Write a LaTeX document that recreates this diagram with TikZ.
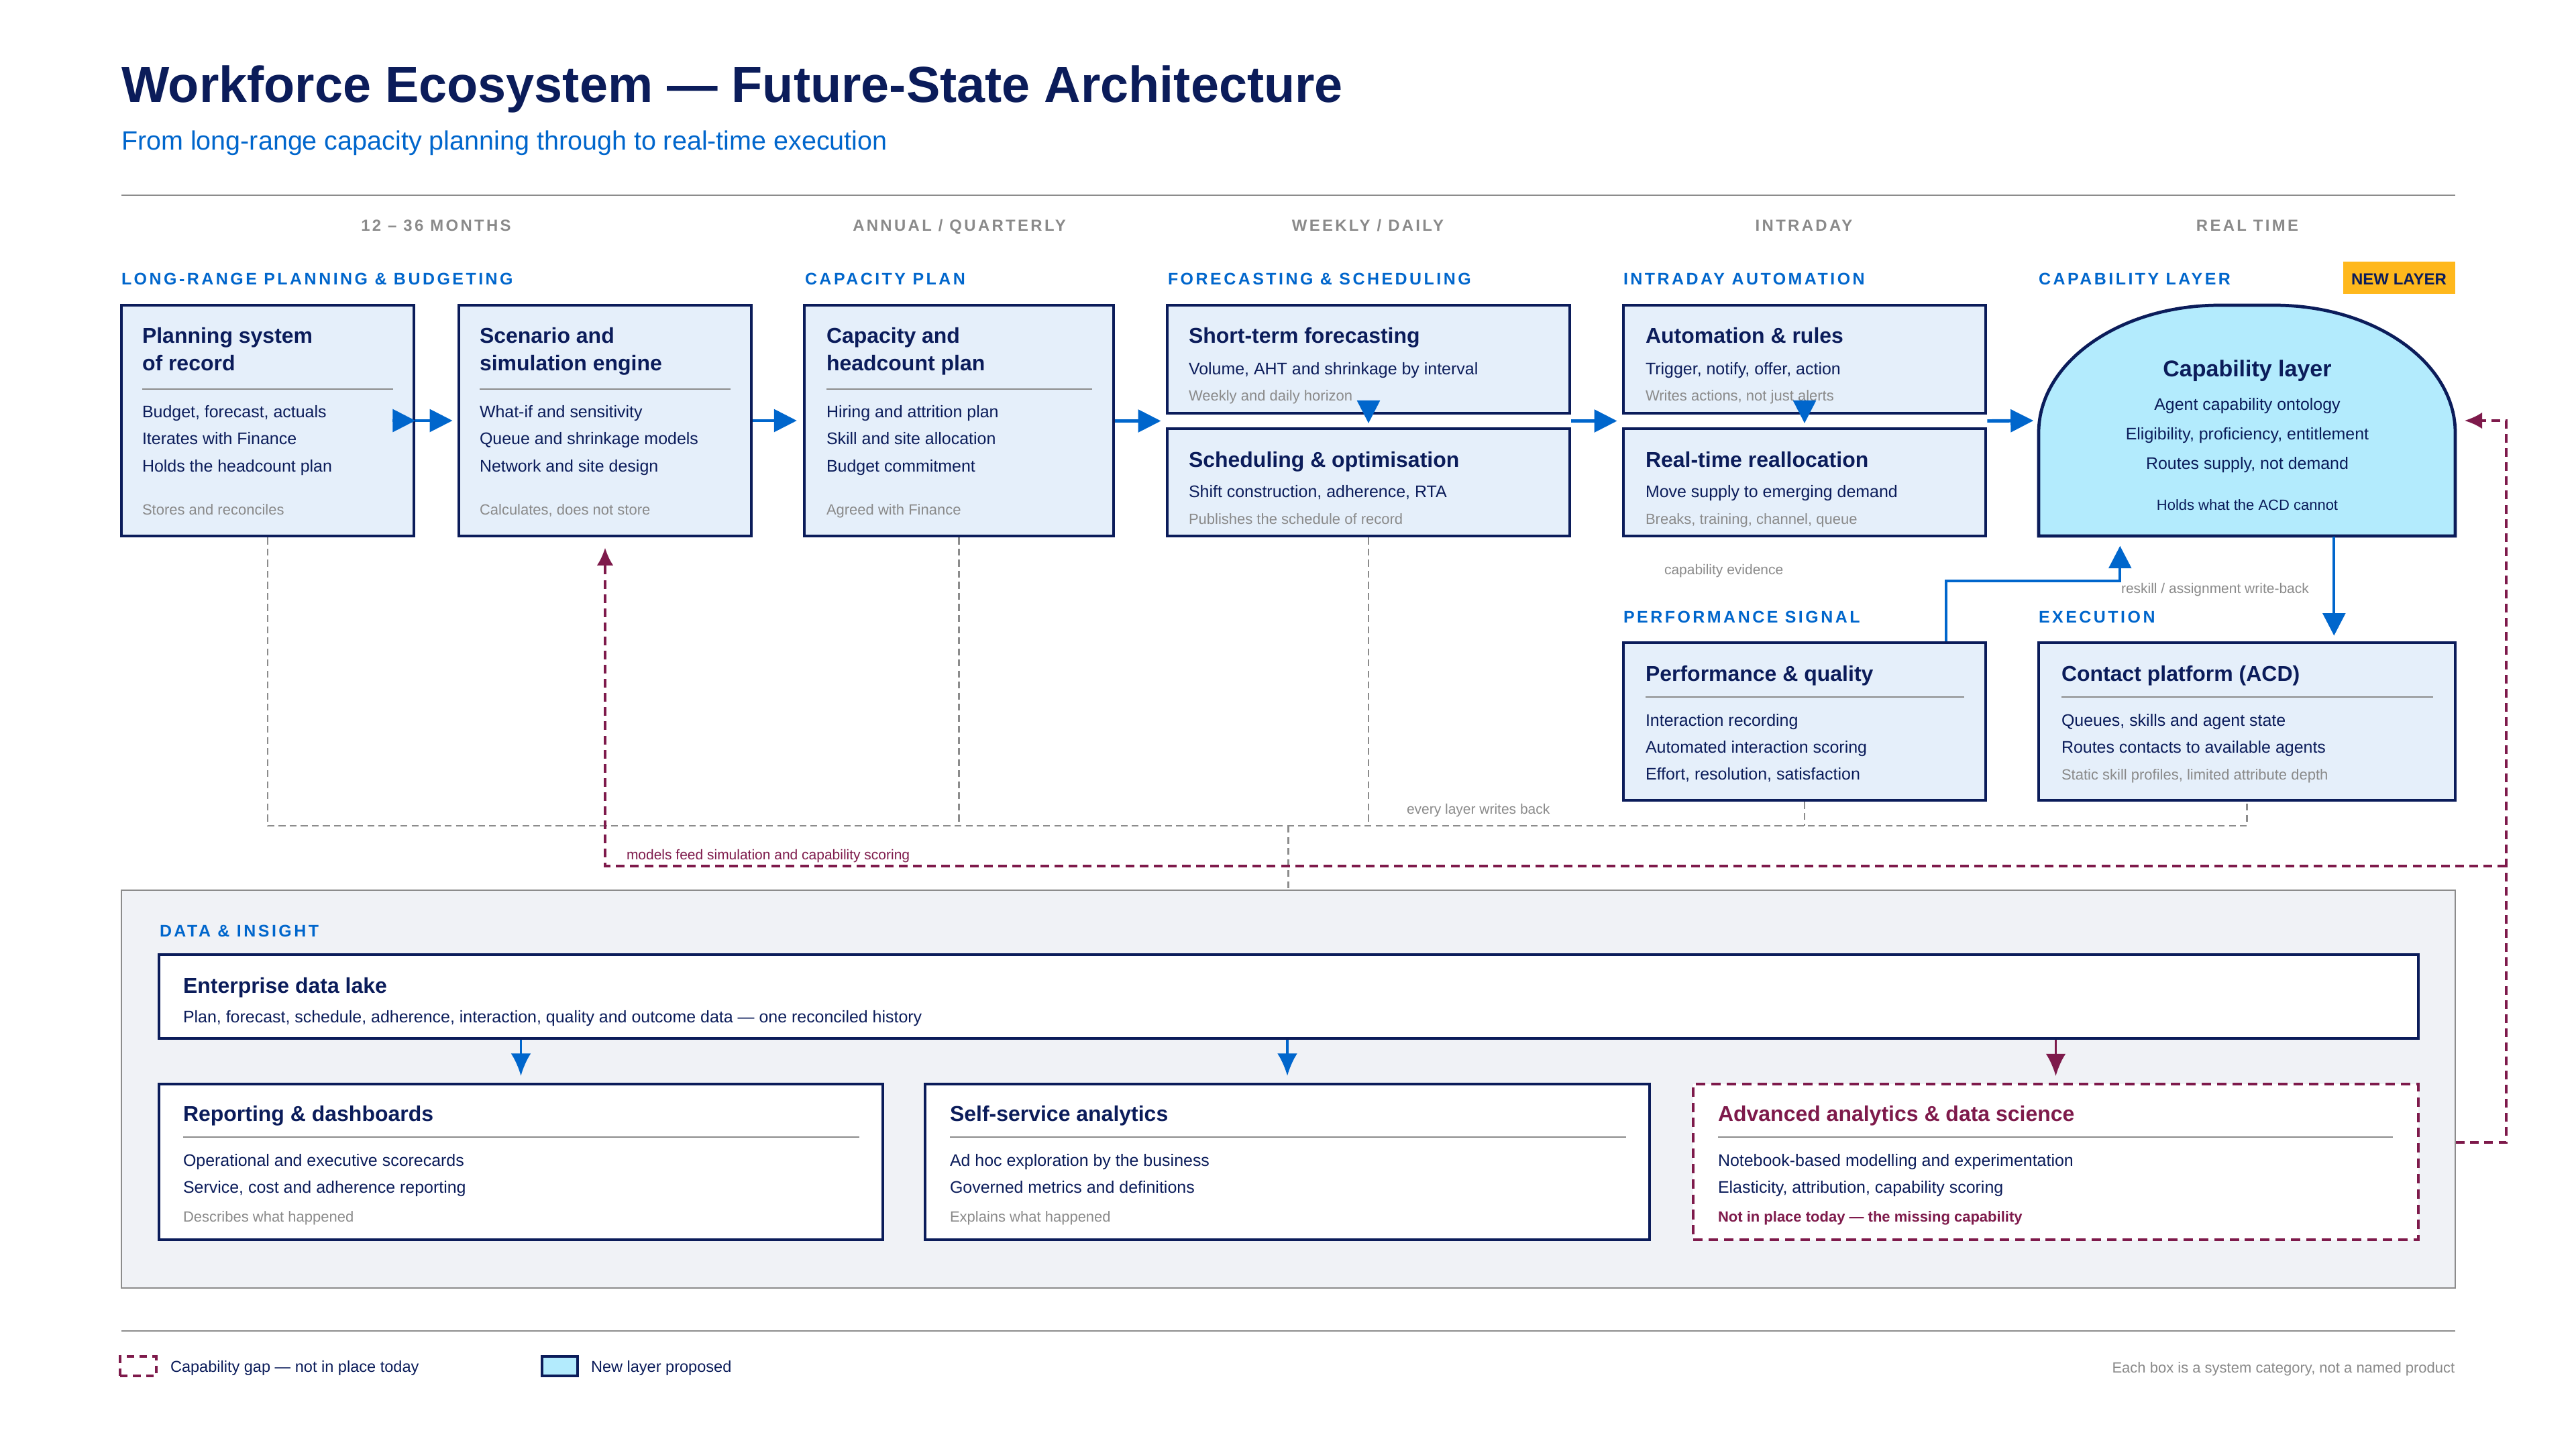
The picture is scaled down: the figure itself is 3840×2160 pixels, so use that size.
\documentclass[tikz,border=0pt]{standalone}
\usepackage{fontspec}
\setmainfont{Liberation Sans}
\newfontfamily\spacedfont[LetterSpace=14]{Liberation Sans}
\usetikzlibrary{arrows.meta,calc,fit}
\definecolor{navy}{HTML}{0B1C5A}
\definecolor{accent}{HTML}{0066CC}
\definecolor{boxfill}{HTML}{E5EFFA}
\definecolor{capfill}{HTML}{B3EBFD}
\definecolor{midgray}{HTML}{8C8C8C}
\definecolor{txtgray}{HTML}{8A8A8A}
\definecolor{gapc}{HTML}{7E1A4B}
\definecolor{badgec}{HTML}{FFB81C}
\definecolor{panelc}{HTML}{F0F2F6}
\newcommand\fsz[2]{\fontsize{#1}{#2}\selectfont}
\tikzset{
 txt/.style={inner sep=0pt, outer sep=0pt, anchor=base west, align=left},
 ttl/.style={txt, font=\fsz{9.1pt}{11.4pt}\bfseries, text=navy},
 bdy/.style={txt, font=\fsz{7.1pt}{11.5pt}, text=navy},
 fnt/.style={txt, font=\fsz{6.26pt}{7.5pt}, text=txtgray},
 sect/.style={txt, font=\spacedfont\bfseries\fsz{7.1pt}{8pt}, text=accent},
 timeh/.style={inner sep=0pt, anchor=base, font=\spacedfont\bfseries\fsz{6.8pt}{8pt}, text=txtgray},
 lbl/.style={txt, font=\fsz{5.97pt}{7pt}, text=txtgray},
 box/.style={draw=navy, line width=1.35pt, fill=boxfill, inner sep=0pt},
 wbox/.style={box, fill=white},
 divider/.style={draw=midgray, line width=0.7pt},
 flow/.style={draw=accent, line width=1.4pt, -{Triangle[length=9.7pt,width=9.5pt]}},
 link/.style={draw=accent, line width=1.15pt, -{Triangle[length=9.5pt,width=9.5pt]}},
 down/.style={draw=accent, line width=1.1pt, -{Latex[length=9.5pt,width=8.5pt]}},
 wb/.style={draw=midgray, line width=0.7pt, dash pattern=on 2.9pt off 1.8pt},
 gaplink/.style={draw=gapc, line width=1pt, dash pattern=on 3.7pt off 2.3pt, -{Latex[length=7.5pt,width=7pt]}},
}
\begin{document}
\begin{tikzpicture}[x=0.1mm, y=-0.1mm]
\useasboundingbox[fill=white] (0,0) rectangle (3840,2160);

% title
\node[txt, font=\fsz{21.5pt}{24pt}\bfseries, text=navy] (title) at (181,152) {Workforce Ecosystem — Future-State Architecture};
\node[txt, font=\fsz{11.24pt}{13pt}, text=accent] (subtitle) at (181,223) {From long-range capacity planning through to real-time execution};
\coordinate (sepL) at (181,291); \coordinate (sepR) at (3660,291);
\draw[divider] (sepL) -- (sepR);

% time headings
\node[timeh] (t1) at (650,344) {12 – 36 MONTHS};
\node[timeh] (t2) at (1430,344) {ANNUAL / QUARTERLY};
\node[timeh] (t3) at (2039,344) {WEEKLY / DAILY};
\node[timeh] (t4) at (2689,344) {INTRADAY};
\node[timeh] (t5) at (3350,344) {REAL TIME};

% section headers
\node[sect] (s1) at (181,424) {LONG-RANGE PLANNING \& BUDGETING};
\node[sect] (s2) at (1200,424) {CAPACITY PLAN};
\node[sect] (s3) at (1741,424) {FORECASTING \& SCHEDULING};
\node[sect] (s4) at (2420,424) {INTRADAY AUTOMATION};
\node[sect] (s5) at (3039,424) {CAPABILITY LAYER};
\node[fill=badgec, inner sep=0pt, fit={(3493,390)(3660,438)}] (badge) {};
\node[inner sep=0pt, anchor=base, font=\fsz{6.83pt}{8pt}\bfseries, text=navy] (badget) at (3576,424) {NEW LAYER};
\node[sect] (s6) at (2420,928) {PERFORMANCE SIGNAL};
\node[sect] (s7) at (3039,928) {EXECUTION};

% top boxes
\node[box, fit={(181,455)(617,799)}] (b1) {};
\node[box, fit={(684,455)(1120,799)}] (b2) {};
\node[box, fit={(1199,455)(1660,799)}] (b3) {};
\node[box, fit={(1740,455)(2340,616)}] (b4a) {};
\node[box, fit={(1740,639)(2340,799)}] (b4b) {};
\node[box, fit={(2420,455)(2960,616)}] (b5a) {};
\node[box, fit={(2420,639)(2960,799)}] (b5b) {};
\node[box, fit={(2420,958)(2960,1193)}] (perf) {};
\node[box, fit={(3039,958)(3660,1193)}] (acd) {};
\draw[draw=navy, line width=1.35pt, fill=capfill] (3039,799) -- (3039,645) .. controls (3039,540) and (3160,455) .. (3309,455) -- (3390,455) .. controls (3539,455) and (3660,540) .. (3660,645) -- (3660,799) -- cycle;
\node[inner sep=0pt, fit={(3039,455)(3660,799)}] (cap) {};

% box 1 (multi-line nodes are placed by their last baseline)
\node[ttl] (b1t) at (212,552) {Planning system\\of record};
\draw[divider] (212,580) -- (586,580);
\node[bdy] (b1b) at (212,703) {Budget, forecast, actuals\\Iterates with Finance\\Holds the headcount plan};
\node[fnt] (b1f) at (212,767) {Stores and reconciles};
% box 2
\node[ttl] (b2t) at (715,552) {Scenario and\\simulation engine};
\draw[divider] (715,580) -- (1089,580);
\node[bdy] (b2b) at (715,703) {What-if and sensitivity\\Queue and shrinkage models\\Network and site design};
\node[fnt] (b2f) at (715,767) {Calculates, does not store};
% box 3
\node[ttl] (b3t) at (1232,552) {Capacity and\\headcount plan};
\draw[divider] (1232,580) -- (1628,580);
\node[bdy] (b3b) at (1232,703) {Hiring and attrition plan\\Skill and site allocation\\Budget commitment};
\node[fnt] (b3f) at (1232,767) {Agreed with Finance};
% box 4
\node[ttl] (b4at) at (1772,511) {Short-term forecasting};
\node[bdy] (b4ab) at (1772,558) {Volume, AHT and shrinkage by interval};
\node[fnt] (b4af) at (1772,597) {Weekly and daily horizon};
\node[ttl] (b4bt) at (1772,696) {Scheduling \& optimisation};
\node[bdy] (b4bb) at (1772,741) {Shift construction, adherence, RTA};
\node[fnt] (b4bf) at (1772,781) {Publishes the schedule of record};
% box 5
\node[ttl] (b5at) at (2453,511) {Automation \& rules};
\node[bdy] (b5ab) at (2453,558) {Trigger, notify, offer, action};
\node[fnt] (b5af) at (2453,597) {Writes actions, not just alerts};
\node[ttl] (b5bt) at (2453,696) {Real-time reallocation};
\node[bdy] (b5bb) at (2453,741) {Move supply to emerging demand};
\node[fnt] (b5bf) at (2453,781) {Breaks, training, channel, queue};
% capability
\node[inner sep=0pt, anchor=base, font=\fsz{9.67pt}{11pt}\bfseries, text=navy] (capt) at (3350,561) {Capability layer};
\node[inner sep=0pt, anchor=base, align=center, font=\fsz{7.1pt}{12.5pt}, text=navy] (capb) at (3350,699) {Agent capability ontology\\Eligibility, proficiency, entitlement\\Routes supply, not demand};
\node[inner sep=0pt, anchor=base, font=\fsz{6.26pt}{7.5pt}, text=navy] (capf) at (3350,760) {Holds what the ACD cannot};
% perf
\node[ttl] (perft) at (2453,1015) {Performance \& quality};
\draw[divider] (2453,1039) -- (2928,1039);
\node[bdy, font=\fsz{7.1pt}{11.38pt}] (perfb) at (2453,1162) {Interaction recording\\Automated interaction scoring\\Effort, resolution, satisfaction};
% acd
\node[ttl] (acdt) at (3073,1015) {Contact platform (ACD)};
\draw[divider] (3073,1039) -- (3627,1039);
\node[bdy, font=\fsz{7.1pt}{11.38pt}] (acdb) at (3073,1122) {Queues, skills and agent state\\Routes contacts to available agents};
\node[fnt] (acdf) at (3073,1162) {Static skill profiles, limited attribute depth};

% flow arrows
\draw[flow] ($(b1.east)+(-34,0)$) -- (b1.east);
\draw[flow, shorten >=2pt] (b1.east) -- (b2.west);
\draw[flow, shorten >=2.5pt] (b2.east) -- (b3.west);
\coordinate (g4w) at ($(b4a.south west)!.5!(b4b.north west)$);
\coordinate (g4e) at ($(b4a.south east)!.5!(b4b.north east)$);
\coordinate (g5w) at ($(b5a.south west)!.5!(b5b.north west)$);
\coordinate (g5e) at ($(b5a.south east)!.5!(b5b.north east)$);
\draw[flow, shorten >=2pt] (b3.east |- g4w) -- (g4w);
\draw[flow, shorten >=2pt] (g4e) -- (g5w);
\draw[flow, shorten >=2pt] (g5e) -- (cap.west);
\draw[flow, shorten >=1.6pt] (b4a.south) -- (b4b.north);
\draw[flow, shorten >=1.6pt] (b5a.south) -- (b5b.north);

% capability evidence and write-back
\coordinate (ce0) at ($(perf.north east)+(-61,0)$);
\coordinate (ce1) at ($(cap.south west)+(122,0)$);
\draw[link, shorten >=4pt] (ce0) -- ++(0,-90) -| (ce1);
\node[lbl] (cel) at (2481,856) {capability evidence};
\coordinate (rw0) at ($(cap.south west)+(441,0)$);
\draw[link, shorten >=2.3pt] (rw0) -- (rw0 |- acd.north);
\node[lbl] (rwl) at (3162,884) {reskill / assignment write-back};

% data & insight panel
\node[draw=midgray, line width=0.7pt, fill=panelc, inner sep=0pt, fit={(181,1327)(3660,1920)}] (panel) {};
\node[sect] (s8) at (238,1396) {DATA \& INSIGHT};
\node[wbox, fit={(237,1423)(3605,1548)}] (lake) {};
\node[wbox, fit={(237,1616)(1316,1848)}] (rep) {};
\node[wbox, fit={(1379,1616)(2459,1848)}] (self) {};
\node[draw=gapc, line width=1.15pt, dash pattern=on 4pt off 2.5pt, fill=white, inner sep=0pt, fit={(2524,1616)(3605,1848)}] (adv) {};

\node[ttl] (laket) at (273,1480) {Enterprise data lake};
\node[bdy] (lakeb) at (273,1524) {Plan, forecast, schedule, adherence, interaction, quality and outcome data — one reconciled history};

\node[ttl] (rept) at (273,1671) {Reporting \& dashboards};
\draw[divider] (273,1695) -- (1281,1695);
\node[bdy, font=\fsz{7.1pt}{11.38pt}] (repb) at (273,1778) {Operational and executive scorecards\\Service, cost and adherence reporting};
\node[fnt] (repf) at (273,1821) {Describes what happened};

\node[ttl] (selft) at (1416,1671) {Self-service analytics};
\draw[divider] (1416,1695) -- (2424,1695);
\node[bdy, font=\fsz{7.1pt}{11.38pt}] (selfb) at (1416,1778) {Ad hoc exploration by the business\\Governed metrics and definitions};
\node[fnt] (selff) at (1416,1821) {Explains what happened};

\node[ttl, text=gapc] (advt) at (2561,1671) {Advanced analytics \& data science};
\draw[divider] (2561,1695) -- (3567,1695);
\node[bdy, font=\fsz{7.1pt}{11.38pt}] (advb) at (2561,1778) {Notebook-based modelling and experimentation\\Elasticity, attribution, capability scoring};
\node[fnt, text=gapc, font=\fsz{6.26pt}{7.5pt}\bfseries] (advf) at (2561,1821) {Not in place today — the missing capability};

\draw[down, shorten >=2.8pt] (rep.north |- lake.south) -- (rep.north);
\draw[down, shorten >=2.8pt] (self.north |- lake.south) -- (self.north);
\draw[down, draw=gapc, shorten >=2.8pt] (adv.north |- lake.south) -- (adv.north);

% write-back gray lines
\coordinate (wbline) at (0,1231);
\draw[wb] (b1.south) -- (b1.south |- wbline) -- (acd.south |- wbline) -- (acd.south);
\draw[wb] (b3.south) -- (b3.south |- wbline);
\draw[wb] (b4b.south) -- (b4b.south |- wbline);
\draw[wb] (perf.south) -- (perf.south |- wbline);
\draw[wb] (panel.north |- wbline) -- (panel.north);
\node[lbl] (wbl) at (2097,1213) {every layer writes back};

% capability gap loop
\coordinate (mgline) at (0,1291);
\coordinate (mgx) at (3736,0);
\coordinate (advout) at (panel.east |- 0,1703);
\draw[gaplink, shorten >=3.7pt] (advout) -- (mgx |- advout) -- (mgx |- cap.east) -- (cap.east);
\draw[gaplink, shorten >=4.3pt] (mgx |- mgline) -- (b2.south |- mgline) -- (b2.south);
\node[lbl, text=gapc] (mgl) at (934,1281) {models feed simulation and capability scoring};

% legend
\coordinate (legL) at (181,1984); \coordinate (legR) at (3660,1984);
\draw[divider] (legL) -- (legR);
\node[draw=gapc, line width=1.1pt, dash pattern=on 3.2pt off 2.3pt, inner sep=0pt, fit={(179,2022)(233,2051)}] (leg1) {};
\node[txt, font=\fsz{6.7pt}{8pt}, text=navy] (leg1t) at (254,2045) {Capability gap — not in place today};
\node[draw=navy, line width=1.3pt, fill=capfill, inner sep=0pt, fit={(808,2022)(861,2051)}] (leg2) {};
\node[txt, font=\fsz{6.7pt}{8pt}, text=navy] (leg2t) at (881,2045) {New layer proposed};
\node[inner sep=0pt, anchor=base east, font=\fsz{6.26pt}{7.5pt}, text=txtgray] (foot) at (3660,2046) {Each box is a system category, not a named product};
\end{tikzpicture}
\end{document}
